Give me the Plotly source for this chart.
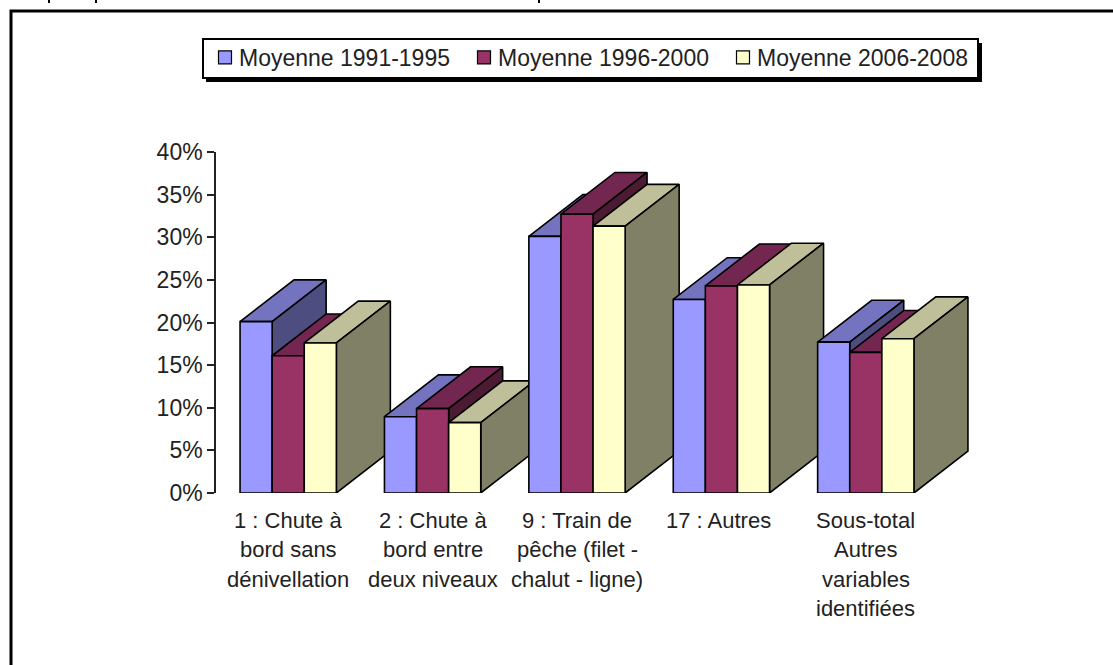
import plotly.graph_objects as go

W, H = 1113, 665
categories = [
    ["1 : Chute à", "bord sans", "dénivellation"],
    ["2 : Chute à", "bord entre", "deux niveaux"],
    ["9 : Train de", "pêche (filet -", "chalut - ligne)"],
    ["17 : Autres\u00a0"],
    ["Sous-total", "Autres", "variables", "identifiées"],
]
series_names = ["Moyenne 1991-1995", "Moyenne 1996-2000", "Moyenne 2006-2008"]
moy_1991_1995 = [20.1, 8.95, 30.1, 22.7, 17.7]
moy_1996_2000 = [16.1, 9.9, 32.7, 24.3, 16.5]
moy_2006_2008 = [17.6, 8.25, 31.3, 24.4, 18.1]
series_values = [moy_1991_1995, moy_1996_2000, moy_2006_2008]
front_colors = ["#9999FF", "#993366", "#FFFFCC"]
top_colors = ["#7373BF", "#732650", "#BFBF99"]
side_colors = ["#4D4D80", "#4D1A33", "#808066"]
y_ticks = [0, 5, 10, 15, 20, 25, 30, 35, 40]

# pixel layout of the plot area
X0, X1, Y0, Y1 = 216, 974, 493, 152
CAT_PX = 144.4
PCT_PX = (Y0 - Y1) / 40
BAR_W = 32.1 / CAT_PX
DX = 54 / CAT_PX
DY = 41.8 / PCT_PX
INK = "#222222"
FONT = "Liberation Sans"


def px(x):
    return (x - X0) / (X1 - X0)


def py(y):
    return (Y0 - y) / (Y0 - Y1)


fig = go.Figure()


def poly(xs, ys, color):
    fig.add_trace(go.Scatter(
        x=xs + xs[:1], y=ys + ys[:1], mode="lines", fill="toself",
        fillcolor=color, line=dict(color="black", width=1.6),
        showlegend=False, hoverinfo="skip",
    ))


for c in range(len(categories)):
    for s, vals in enumerate(series_values):
        v = vals[c]
        a = c + (s - 1.5) * BAR_W
        b = a + BAR_W
        poly([a, b, b + DX, a + DX], [v, v, v + DY, v + DY], top_colors[s])
        poly([b, b + DX, b + DX, b], [0, DY, v + DY, v], side_colors[s])
        poly([a, b, b, a], [0, 0, v, v], front_colors[s])

for s, name in enumerate(series_names):
    fig.add_trace(go.Scatter(
        x=[None], y=[None], mode="markers", name=name,
        marker=dict(symbol="square", size=13, color=front_colors[s],
                    line=dict(color="black", width=1.2)),
    ))

for c, lines in enumerate(categories):
    for k, line in enumerate(lines):
        fig.add_annotation(
            x=c, xref="x", y=py(520 + k * 29.6), yref="paper", text=line,
            showarrow=False, xanchor="center", yanchor="middle",
            font=dict(family=FONT, size=22, color=INK),
        )

clipped_bits = [
    dict(type="line", xref="paper", yref="paper", x0=px(x), x1=px(x), y0=py(0), y1=py(3),
         line=dict(color="black", width=2))
    for x in (49, 96, 539)
]

fig.update_layout(
    width=W, height=H, autosize=False,
    margin=dict(l=X0, r=W - X1, t=Y1, b=H - Y0, pad=0),
    paper_bgcolor="white", plot_bgcolor="white",
    font=dict(family=FONT, size=23, color=INK),
    xaxis=dict(range=[-0.5, -0.5 + (X1 - X0) / CAT_PX], visible=False, fixedrange=True),
    yaxis=dict(range=[0, 40], tickvals=y_ticks, automargin=False,
               ticktext=[f"{t}%" for t in y_ticks], showgrid=False, zeroline=False,
               showline=True, linecolor="#222222", linewidth=1.5,
               ticks="outside", ticklen=7, tickcolor="#222222", tickwidth=1.5,
               fixedrange=True),
    legend=dict(
        orientation="h", x=px(199), y=py(36), xanchor="left", yanchor="top",
        bgcolor="rgba(0,0,0,0)", borderwidth=0,
        entrywidth=214, entrywidthmode="pixels",
        font=dict(family=FONT, size=23, color=INK),
        itemclick=False, itemdoubleclick=False,
    ),
    shapes=[
        dict(type="rect", xref="paper", yref="paper", x0=px(206), x1=px(982),
             y0=py(43), y1=py(82), fillcolor="black", line=dict(width=0)),
        dict(type="rect", xref="paper", yref="paper", x0=px(203), x1=px(978),
             y0=py(39), y1=py(78), fillcolor="white", line=dict(color="black", width=2)),
        dict(type="path", xref="paper", yref="paper",
             path=f"M {px(11)},{py(670)} L {px(11)},{py(11)} L {px(1120)},{py(11)}",
             line=dict(color="black", width=3)),
    ] + clipped_bits,
)

fig.write_html(
    "out.html",
    post_script=(
        "document.body.style.margin='0';"
        "document.querySelectorAll('.legendpoints').forEach(function(g){"
        "g.setAttribute('transform','translate(6,0)');});"
    ),
    config={"displayModeBar": False},
)
